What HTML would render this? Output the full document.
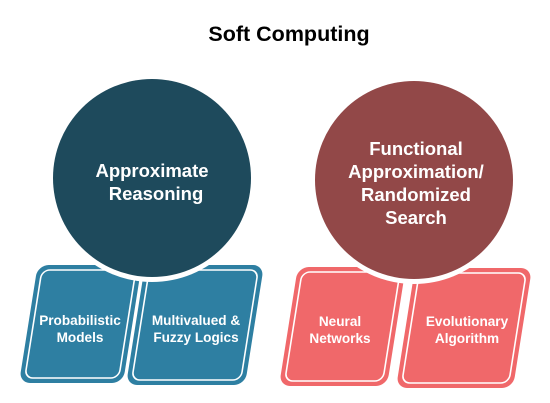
<!DOCTYPE html>
<html><head><meta charset="utf-8"><style>
html,body{margin:0;padding:0;background:#fff;}
svg{display:block;font-family:"Liberation Sans",sans-serif;font-weight:bold;}
</style></head><body>
<svg width="550" height="403" viewBox="0 0 550 403">
<text x="289" y="41" text-anchor="middle" font-size="21.5" fill="#000">Soft Computing</text>
<g transform="translate(19,383) skewX(-9)">
<rect x="0" y="-118" width="104" height="118" rx="11" fill="#2e7fa2"/>
<rect x="5" y="-113" width="94" height="108" rx="8" fill="none" stroke="#fff" stroke-width="1.6"/>
</g>
<g transform="translate(126,385) skewX(-9)">
<rect x="0" y="-120" width="119" height="120" rx="11" fill="#2e7fa2"/>
<rect x="5" y="-115" width="109" height="110" rx="8" fill="none" stroke="#fff" stroke-width="1.6"/>
</g>
<g transform="translate(279,386) skewX(-9)">
<rect x="0" y="-119" width="108" height="119" rx="11" fill="#f0686a"/>
<rect x="5" y="-114" width="98" height="109" rx="8" fill="none" stroke="#fff" stroke-width="1.6"/>
</g>
<g transform="translate(396,388) skewX(-9)">
<rect x="0" y="-120" width="117" height="120" rx="11" fill="#f0686a"/>
<rect x="5" y="-115" width="107" height="110" rx="8" fill="none" stroke="#fff" stroke-width="1.6"/>
</g>
<circle cx="152" cy="178" r="104" fill="#fff"/>
<circle cx="152" cy="178" r="99" fill="#1e4a5c"/>
<circle cx="414" cy="180" r="104" fill="#fff"/>
<circle cx="414" cy="180" r="99" fill="#924848"/>
<g fill="#fff" text-anchor="middle" font-size="18.5">
<text x="152" y="177">Approximate</text>
<text x="156" y="200">Reasoning</text>
<text x="416" y="155">Functional</text>
<text x="416" y="178">Approximation/</text>
<text x="416" y="201">Randomized</text>
<text x="416" y="224">Search</text>
</g>
<g fill="#fff" text-anchor="middle" font-size="13.6">
<text x="80" y="325">Probabilistic</text>
<text x="80" y="342">Models</text>
<text x="196" y="325">Multivalued &amp;</text>
<text x="196" y="342">Fuzzy Logics</text>
<text x="340" y="326">Neural</text>
<text x="340" y="343">Networks</text>
<text x="467" y="326">Evolutionary</text>
<text x="467" y="343">Algorithm</text>
</g>
</svg>
</body></html>
